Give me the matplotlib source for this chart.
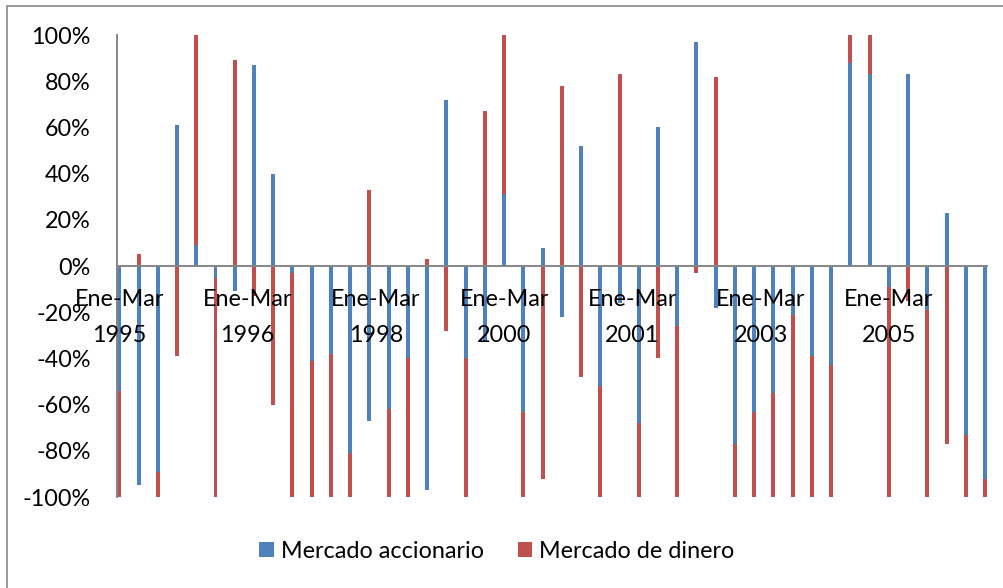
import numpy as np
import matplotlib.pyplot as plt
from matplotlib.ticker import FuncFormatter
from matplotlib.patches import Rectangle

plt.rcParams['font.family'] = ['Lato', 'DejaVu Sans']

# trimestres desde Ene-Mar 1995 (46 periodos)
acciones = [-0.54, -0.95, -0.89, 0.61, 0.09, -0.05, -0.11, 0.87, 0.40, -0.03,
            -0.41, -0.38, -0.81, -0.67, -0.62, -0.40, -0.97, 0.72, -0.40, -0.33,
            0.31, -0.63, 0.08, -0.22, 0.52, -0.52, -0.16, -0.68, 0.60, -0.26,
            0.97, -0.18, -0.77, -0.63, -0.55, -0.21, -0.39, -0.43, 0.88, 0.83,
            -0.09, 0.83, -0.19, 0.23, -0.73, -0.92]
dinero = [-0.46, 0.05, -0.11, -0.39, 0.91, -0.95, 0.89, -0.13, -0.60, -0.97,
          -0.59, -0.62, -0.19, 0.33, -0.38, -0.60, 0.03, -0.28, -0.60, 0.67,
          0.69, -0.37, -0.92, 0.78, -0.48, -0.48, 0.83, -0.32, -0.40, -0.74,
          -0.03, 0.82, -0.23, -0.37, -0.45, -0.79, -0.61, -0.57, 0.12, 0.17,
          -0.91, -0.15, -0.81, -0.77, -0.27, -0.08]
etiquetas = ['Ene-Mar\n1995', 'Ene-Mar\n1996', 'Ene-Mar\n1998', 'Ene-Mar\n2000',
             'Ene-Mar\n2001', 'Ene-Mar\n2003', 'Ene-Mar\n2005']

azul = '#4F81BD'
rojo = '#C0504D'
gris = '#868686'

acciones = np.array(acciones)
dinero = np.array(dinero)
meses = np.arange(len(acciones)) * 3  # eje de fechas, unidad = mes
base_rojo = np.where(np.sign(dinero) == np.sign(acciones), acciones, 0)

fig = plt.figure(figsize=(10.04, 5.88), dpi=100)
ax = fig.add_axes([117 / 1004, 91 / 588, 870 / 1004, 462 / 588])

ax.bar(meses, acciones, width=0.62, color=azul, label='Mercado accionario', zorder=1)
ax.bar(meses, dinero, width=0.62, bottom=base_rojo, color=rojo,
       label='Mercado de dinero', zorder=1)

ax.set_ylim(-1, 1)
ax.set_xlim(-0.36, 135.3)
ax.set_yticks(np.arange(-1, 1.01, 0.2))
ax.yaxis.set_major_formatter(FuncFormatter(lambda v, p: f'{round(v * 100):d}%'))
ax.tick_params(axis='both', length=0, labelsize=16.8, colors='black')
ax.tick_params(axis='y', pad=19)

# etiquetas de fecha (cada 20 meses), pegadas al eje en 0
ax.set_xticks(np.arange(len(etiquetas)) * 20)
ax.set_xticklabels([])
for xt, lab in zip(ax.get_xticks(), etiquetas):
    ax.text(xt, 0.5 - 23 / 462, lab, transform=ax.get_xaxis_transform(),
            ha='center', va='top', fontsize=16.8, linespacing=1.9, zorder=4)

for s in ['top', 'right']:
    ax.spines[s].set_visible(False)
ax.spines['bottom'].set_position(('data', 0))
for s in ['left', 'bottom']:
    ax.spines[s].set_color(gris)
    ax.spines[s].set_linewidth(1.4)
    ax.spines[s].set_zorder(3)

fig.legend(loc='center', bbox_to_anchor=(497 / 1004, 1 - 551 / 588), ncol=2,
           frameon=False, fontsize=16.8, handlelength=0.62, handleheight=0.62,
           handletextpad=0.3, columnspacing=1.45)

fig.patches.append(Rectangle((6.5 / 1004, -0.05), 1.1, 1 - 5.5 / 588 + 0.05,
                             transform=fig.transFigure, fill=False,
                             edgecolor='#898989', linewidth=1.2))

fig.savefig('out.png', dpi=100)
